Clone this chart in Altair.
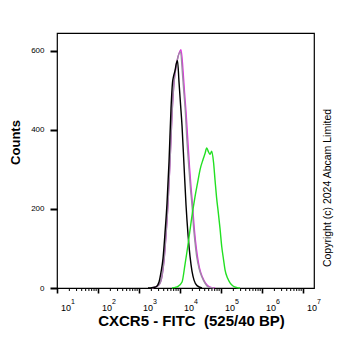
import altair as alt
import pandas as pd

# Fluorescence intensity (FITC) and counts
black_x = [1658, 2076, 2598, 3074, 3440, 3849, 4307, 4819, 5393, 6034, 6565, 6944, 7551,
           8216, 8690, 9454, 10285, 11191, 12522, 14007, 15675, 17543, 19620, 21960, 25980, 34400]
black_y = [0, 1, 3, 15, 40, 75, 140, 215, 320, 455, 520, 535, 550,
           570, 575, 520, 465, 410, 310, 210, 135, 80, 42, 20, 6, 0]

gray_x = [1962, 2456, 3074, 3639, 4072, 4556, 5098, 5705, 6383, 7142, 7988, 8938, 10285, 11508,
          12522, 13243, 14818, 16583, 18043, 19620, 21350, 23230, 25550, 29070, 33830, 39590, 48190, 67510]
gray_y = [0, 2, 8, 30, 70, 135, 215, 320, 440, 520, 560, 585, 598, 540,
          490, 459, 370, 300, 250, 210, 155, 115, 79, 50, 29, 14, 3, 0]

magenta_x = [1962, 2456, 3074, 3639, 4072, 4556, 5098, 5705, 6383, 7142, 7988, 8938, 10578, 11840,
             12880, 14007, 15675, 17050, 18550, 20180, 21960, 23880, 26730, 29890, 35390, 41880, 52420, 71420]
magenta_y = [0, 2, 8, 30, 70, 135, 215, 320, 440, 520, 560, 585, 603, 550,
             495, 445, 365, 305, 255, 210, 158, 118, 78, 50, 27, 12, 3, 0]

green_x = [6383, 7988, 8938, 11191, 13243, 15675, 17543, 20760, 23230, 27480, 30740, 36390, 40720,
           44800, 49560, 53930, 59330, 65650, 71420, 77690, 85950, 94540, 104000, 115100, 125200,
           144100, 165800, 196200, 245600, 290700]
green_y = [0, 2, 4, 15, 60, 110, 147, 200, 231, 272, 299, 325, 340,
           354, 344, 338, 346, 318, 273, 230, 190, 150, 105, 72, 46,
           25, 13, 5, 1, 0]

major_ticks = [10, 100, 1000, 10000, 100000, 1000000, 10000000]
bases = ["10", "10", "10", "10", "10", "10", "10"]
exponents = ["1", "2", "3", "4", "5", "6", "7"]
minor_mult = [2, 3, 4, 5, 6, 7, 8, 9]
minor_ticks = [m * t for t in major_ticks[:-1] for m in minor_mult]
y_ticks = [0, 200, 400, 600]

W, H = 257, 255
FONT = "Liberation Sans"

xscale = alt.Scale(type="log", domain=[10, 18500000], nice=False)
yscale = alt.Scale(domain=[0, 645], nice=False)

xaxis = alt.Axis(values=major_ticks, labels=False,
                 tickSize=5, tickWidth=1.6, tickColor="black", domain=False, grid=False,
                 title="CXCR5 - FITC\u00a0\u00a0(525/40 BP)", titleFontSize=15, titleFontWeight="bold",
                 titleFont=FONT, titleColor="black", titleX=134, titleY=37,
                 titleAlign="center", titleBaseline="alphabetic")
yaxis = alt.Axis(values=y_ticks, tickSize=7, tickWidth=2, tickColor="black",
                 labelFontSize=8, labelFont=FONT, labelColor="black", labelPadding=6,
                 domain=False, grid=False, title="Counts", titleFontSize=13,
                 titleFontWeight="bold", titleFont=FONT, titleColor="black",
                 titleX=-37.5, titleY=109, titleAlign="center", titleBaseline="alphabetic",
                 titleAngle=270)


def curve(xs, ys, color):
    df = pd.DataFrame({"fl": xs, "count": ys})
    return alt.Chart(df).mark_line(color=color, strokeWidth=1.4, interpolate="monotone").encode(
        x=alt.X("fl:Q", scale=xscale, axis=xaxis),
        y=alt.Y("count:Q", scale=yscale, axis=yaxis),
    )


minor_df = pd.DataFrame({"fl": minor_ticks})
minor = alt.Chart(minor_df).mark_rule(color="black", strokeWidth=1).encode(
    x=alt.X("fl:Q", scale=xscale, axis=xaxis),
    y=alt.value(H), y2=alt.value(H + 3),
)

lab_df = pd.DataFrame({"fl": major_ticks, "base": bases, "exp": exponents})
base_txt = alt.Chart(lab_df).mark_text(align="left", baseline="alphabetic", dx=4,
                                        fontSize=9, font=FONT, color="black").encode(
    x=alt.X("fl:Q", scale=xscale, axis=xaxis),
    y=alt.value(277.5),
    text="base:N",
)
exp_txt = alt.Chart(lab_df).mark_text(align="left", baseline="alphabetic", dx=14,
                                       fontSize=7, font=FONT, color="black").encode(
    x=alt.X("fl:Q", scale=xscale, axis=xaxis),
    y=alt.value(270.5),
    text="exp:N",
)

copy_df = pd.DataFrame({"t": ["Copyright (c) 2024 Abcam Limited"]})
copyright_txt = alt.Chart(copy_df).mark_text(angle=270, align="center", baseline="alphabetic",
                                             fontSize=10.5, font=FONT, color="black").encode(
    x=alt.value(274), y=alt.value(155), text="t:N",
)

chart = alt.layer(
    curve(magenta_x, magenta_y, "#e030e0"),
    curve(gray_x, gray_y, "#9c8ca4"),
    curve(black_x, black_y, "#000000"),
    curve(green_x, green_y, "#22e022"),
    minor, base_txt, exp_txt, copyright_txt,
).properties(
    width=W, height=H,
    padding={"left": 57, "top": 33, "right": 48, "bottom": 63},
    autosize=alt.AutoSizeParams(type="none"),
).configure(font=FONT, background="white").configure_view(stroke="#000000", strokeWidth=1.2)

chart.save("out.html", embed_options={"renderer": "svg", "actions": False})
